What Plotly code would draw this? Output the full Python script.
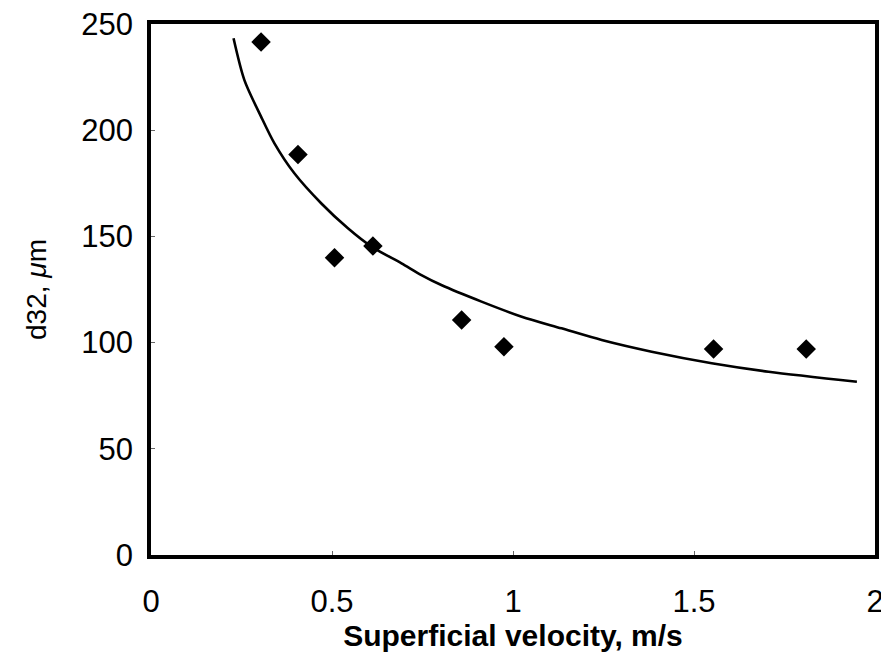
import plotly.graph_objects as go

# Measured data points
velocity = [0.304, 0.406, 0.507, 0.613, 0.858, 0.975, 1.554, 1.810]
d32 = [241.5, 188.6, 140.0, 145.5, 110.6, 98.1, 97.0, 97.0]

# Trend curve
curve_x = [0.228, 0.258, 0.304, 0.341, 0.396, 0.470, 0.544, 0.609, 0.692, 0.747,
           0.802, 0.913, 1.024, 1.134, 1.245, 1.383, 1.549, 1.706, 1.950]
curve_y = [243.3, 223.6, 206.4, 193.8, 179.7, 165.6, 153.8, 145.2, 137.3, 131.8,
           127.1, 119.3, 112.2, 106.7, 101.2, 95.7, 90.3, 86.3, 81.6]

x_ticks = [0, 0.5, 1, 1.5, 2]
x_tick_text = ["0", "0.5", "1", "1.5", "2"]
y_ticks = [0, 50, 100, 150, 200, 250]

font_family = "Liberation Sans, Arial, sans-serif"

fig = go.Figure()
fig.add_trace(go.Scatter(
    x=curve_x, y=curve_y, mode="lines",
    line=dict(color="black", width=2.6, shape="spline", smoothing=0.8),
    showlegend=False, hoverinfo="skip"))
fig.add_trace(go.Scatter(
    x=velocity, y=d32, mode="markers",
    marker=dict(symbol="diamond", size=15, color="black"),
    showlegend=False))

fig.update_layout(
    width=881, height=651,
    margin=dict(l=143, r=14, t=16, b=104),
    paper_bgcolor="white", plot_bgcolor="white",
    font=dict(family=font_family, color="black", size=22),
    xaxis=dict(
        range=[0, 2], tickvals=x_ticks, ticktext=x_tick_text,
        automargin=False,
        showgrid=False, zeroline=False,
        showline=True, linecolor="black", linewidth=3.5, mirror=True,
        ticks="inside", ticklen=4, tickcolor="#666", tickwidth=1,
        ticklabelstandoff=16, ticklabeloverflow="allow",
        tickfont=dict(size=31, family=font_family),
        title=dict(text="Superficial velocity, m/s", standoff=8,
                   font=dict(size=30, family=font_family, weight="bold")),
    ),
    yaxis=dict(
        range=[0, 250], tickvals=y_ticks,
        automargin=False,
        showgrid=False, zeroline=False,
        showline=True, linecolor="black", linewidth=3.5, mirror=True,
        ticks="inside", ticklen=4, tickcolor="#666", tickwidth=1,
        ticklabelstandoff=8, ticklabeloverflow="allow",
        tickfont=dict(size=31, family=font_family),
        title=dict(text="d32, <i>μ</i>m", standoff=28,
                   font=dict(size=28, family=font_family)),
    ),
)

fig.write_html("out.html")
